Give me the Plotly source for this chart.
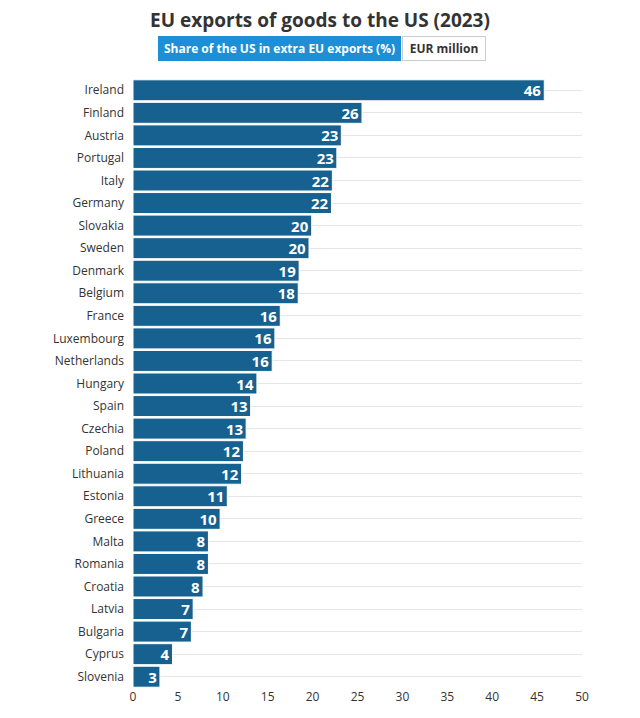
import plotly.graph_objects as go

countries = ['Ireland', 'Finland', 'Austria', 'Portugal', 'Italy', 'Germany', 'Slovakia',
             'Sweden', 'Denmark', 'Belgium', 'France', 'Luxembourg', 'Netherlands', 'Hungary',
             'Spain', 'Czechia', 'Poland', 'Lithuania', 'Estonia', 'Greece', 'Malta', 'Romania',
             'Croatia', 'Latvia', 'Bulgaria', 'Cyprus', 'Slovenia']
# bar lengths, the printed labels are rounded
share = [45.8, 25.5, 23.2, 22.7, 22.2, 22.1, 19.9, 19.6, 18.5, 18.4, 16.4, 15.8, 15.5, 13.8,
         13.1, 12.6, 12.3, 12.1, 10.5, 9.7, 8.4, 8.4, 7.8, 6.7, 6.5, 4.4, 3.0]
labels = ['46', '26', '23', '23', '22', '22', '20', '20', '19', '18', '16', '16', '16', '14',
          '13', '13', '12', '12', '11', '10', '8', '8', '8', '7', '7', '4', '3']
x_ticks = [0, 5, 10, 15, 20, 25, 30, 35, 40, 45, 50]

FONT = 'Open Sans'
BAR_COLOR = '#16618f'

W, H = 624, 702
M_L, M_R, M_T, M_B = 125, 50, 71, 22
plot_w = W - M_L - M_R
plot_h = H - M_T - M_B


# header pieces are placed in figure pixels, converted to paper coordinates
def bx(x):
    return (x - M_L) / plot_w


def by(y):
    return 1 - (y - M_T) / plot_h


fig = go.Figure()
fig.add_trace(go.Bar(
    y=countries,
    x=share,
    orientation='h',
    text=labels,
    textposition='inside',
    insidetextanchor='end',
    textangle=0,
    constraintext='none',
    textfont=dict(family=FONT, size=15, color='white', weight='bold'),
    marker=dict(color=BAR_COLOR, line=dict(color='white', width=1)),
    hoverinfo='y+x',
))

fig.update_layout(
    width=W,
    height=H,
    margin=dict(l=M_L, r=M_R, t=M_T, b=M_B, autoexpand=False),
    paper_bgcolor='white',
    plot_bgcolor='white',
    font=dict(family=FONT, size=12, color='#333333'),
    showlegend=False,
    bargap=0.07,
    title=dict(
        text='<b>EU exports of goods to the US (2023)</b>',
        x=0.5, xanchor='center', y=1 - 12 / H, yanchor='middle',
        font=dict(family=FONT, size=19, color='#333333'),
    ),
    xaxis=dict(
        range=[0, 50], tickvals=x_ticks, showgrid=False, zeroline=False, automargin=False,
        showline=False, ticks='', tickfont=dict(size=12, color='#333333'),
    ),
    yaxis=dict(
        autorange='reversed', showgrid=True, gridcolor='#e6e6e6', gridwidth=1, automargin=False,
        zeroline=False, showline=False, ticks='', ticklabelstandoff=8,
        tickfont=dict(size=12, color='#333333'), dtick=1,
    ),
    annotations=[
        dict(text='<b>Share of the US in extra EU exports (%)</b>', xref='paper', yref='paper',
             x=bx(150), y=by(40.5), xanchor='left', yanchor='middle', showarrow=False,
             width=239, height=21, bgcolor='#1c8fd6', bordercolor='#1c8fd6', borderwidth=1,
             align='center', font=dict(family=FONT, size=12, color='white')),
        dict(text='<b>EUR million</b>', xref='paper', yref='paper',
             x=bx(394), y=by(40.5), xanchor='left', yanchor='middle', showarrow=False,
             width=80, height=21, bgcolor='white', bordercolor='#cccccc', borderwidth=1,
             align='center', font=dict(family=FONT, size=12, color='#333333')),
    ],
)

fig.write_html('out.html')
